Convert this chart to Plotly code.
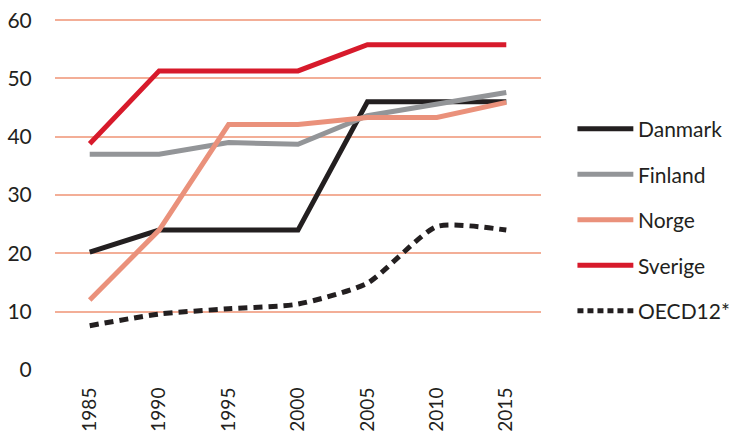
import plotly.graph_objects as go

years = ["1985", "1990", "1995", "2000", "2005", "2010", "2015"]
danmark = [20.2, 24.0, 24.0, 24.0, 46.0, 46.0, 46.0]
finland = [37.0, 37.0, 39.0, 38.7, 43.6, 45.6, 47.6]
norge = [12.0, 24.0, 42.1, 42.1, 43.3, 43.3, 45.9]
sverige = [38.8, 51.3, 51.3, 51.3, 55.8, 55.8, 55.8]
oecd = [7.6, 9.6, 10.5, 11.3, 14.9, 24.6, 24.0]

names = ["Danmark", "Finland", "Norge", "Sverige", "OECD12*"]
series = [danmark, finland, norge, sverige, oecd]
colors = ["#231F20", "#939598", "#EA917B", "#D71A2B", "#231F20"]
dashes = ["solid", "solid", "solid", "solid", "9px,6px"]
shapes_ln = ["linear", "linear", "linear", "linear", "spline"]

FONT = "Lato"
fig = go.Figure()
for n, s, c, d, sh in zip(names, series, colors, dashes, shapes_ln):
    fig.add_trace(go.Scatter(x=years, y=s, mode="lines", name=n,
                             line=dict(color=c, width=5, dash=d, shape=sh, smoothing=0.6),
                             showlegend=False))

# manual legend (long line samples)
shapes = []
annotations = []
leg_y0 = 0.687
leg_dy = 0.1295
for i, (n, c, d) in enumerate(zip(names, colors, dashes)):
    yy = leg_y0 - i * leg_dy
    shapes.append(dict(type="line", xref="paper", yref="paper",
                       x0=1.075, x1=1.19, y0=yy, y1=yy,
                       line=dict(color=c, width=5, dash=("solid" if d == "solid" else "6px,4px"))))
    annotations.append(dict(xref="paper", yref="paper", x=1.196, y=yy, text=n,
                            showarrow=False, xanchor="left", yanchor="middle",
                            font=dict(family=FONT, size=21, color="#231F20")))

fig.update_layout(
    width=733, height=435,
    margin=dict(l=55, r=192, t=19, b=65),
    paper_bgcolor="white", plot_bgcolor="white",
    font=dict(family=FONT, size=19, color="#231F20"),
    shapes=shapes, annotations=annotations,
    xaxis=dict(type="category", range=[-0.5, 6.5], showgrid=False, zeroline=False,
               showline=False, tickangle=-90, ticks="outside", ticklen=9, automargin=False,
               tickcolor="rgba(0,0,0,0)", tickfont=dict(family=FONT, size=19, color="#231F20")),
    yaxis=dict(range=[0, 60.2], tickvals=[0, 10, 20, 30, 40, 50, 60], showgrid=True,
               gridcolor="#F3AE97", gridwidth=1.5, zeroline=False, showline=False,
               ticks="outside", ticklen=18, tickcolor="rgba(0,0,0,0)", automargin=False,
               tickfont=dict(family=FONT, size=21, color="#231F20")),
)
fig.write_html("out.html")
